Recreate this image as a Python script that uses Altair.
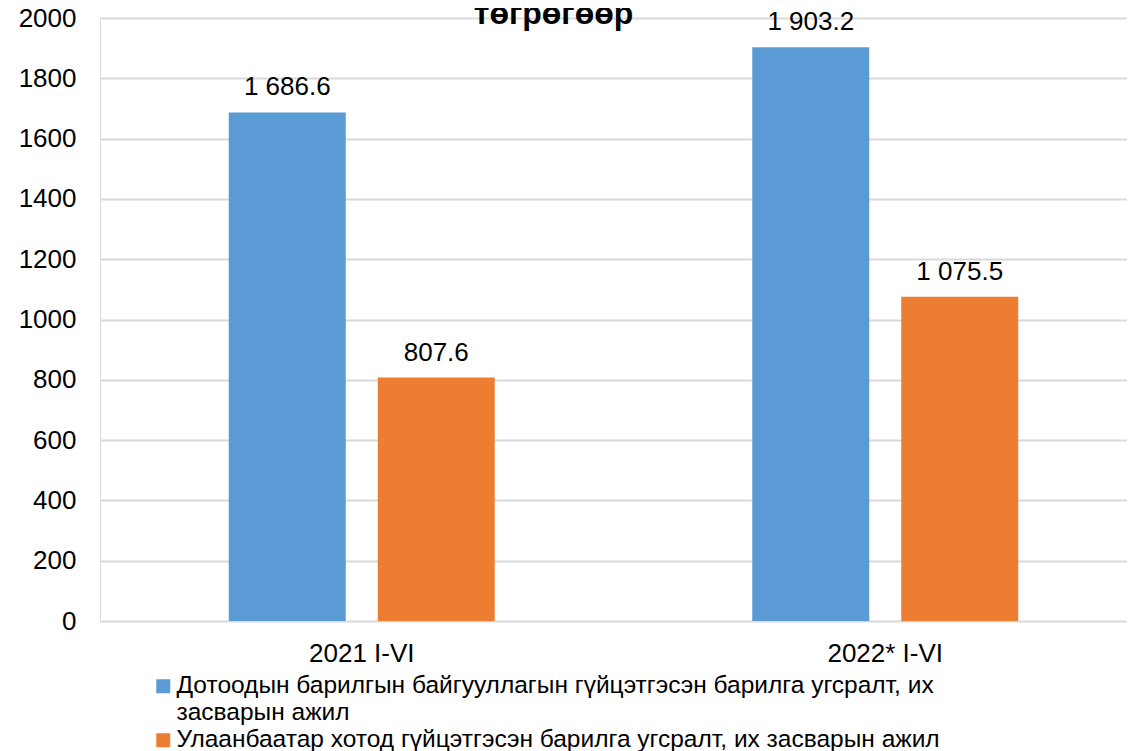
import altair as alt
import pandas as pd

periods = ["2021 I-VI", "2022* I-VI"]
series_names = [
    "Дотоодын барилгын байгууллагын гүйцэтгэсэн барилга угсралт, их засварын ажил",
    "Улаанбаатар хотод гүйцэтгэсэн барилга угсралт, их засварын ажил",
]
domestic_values = [1686.6, 1903.2]
ulaanbaatar_values = [807.6, 1075.5]
y_ticks = [0, 200, 400, 600, 800, 1000, 1200, 1400, 1600, 1800, 2000]
colors = ["#5B9BD5", "#ED7D31"]
title_text = "төгрөгөөр"

rows = []
for p, a, b in zip(periods, domestic_values, ulaanbaatar_values):
    rows.append({"period": p, "series": series_names[0], "value": a})
    rows.append({"period": p, "series": series_names[1], "value": b})
df = pd.DataFrame(rows)

FONT = "Liberation Sans"

first = series_names[0]
cut = first.rfind(" засварын")
label_expr = f"datum.label == '{first}' ? ['{first[:cut]}', '{first[cut+1:]}'] : datum.label"

x_enc = alt.X(
    "period:N",
    sort=periods,
    scale=alt.Scale(range=[0, 1047], paddingInner=0, paddingOuter=0),
    axis=alt.Axis(
        title=None,
        labelAngle=0,
        ticks=False,
        domain=False,
        labelFontSize=26,
        labelFont=FONT,
        labelColor="#000000",
        labelPadding=19,
        grid=False,
    ),
)
xoff_enc = alt.XOffset(
    "series:N",
    sort=series_names,
    scale=alt.Scale(paddingInner=0.2148, paddingOuter=0.8643),
)
y_enc = alt.Y(
    "value:Q",
    scale=alt.Scale(domain=[0, 2000], nice=False),
    axis=alt.Axis(
        title=None,
        values=y_ticks,
        format="d",
        domain=False,
        ticks=False,
        labelFontSize=26,
        labelFont=FONT,
        labelColor="#000000",
        labelPadding=24,
        gridColor="#D9D9D9",
        gridWidth=2,
    ),
)

base = alt.Chart(df).transform_calculate(
    label="replace(format(datum.value, ',.1f'), ',', ' ')"
)

bars = base.mark_bar().encode(
    x=x_enc,
    xOffset=xoff_enc,
    y=y_enc,
    color=alt.Color(
        "series:N",
        sort=series_names,
        scale=alt.Scale(domain=series_names, range=colors),
        legend=alt.Legend(
            title=None,
            orient="none",
            legendX=51,
            legendY=656,
            direction="vertical",
            symbolType="square",
            symbolSize=196,
            symbolStrokeWidth=0,
            labelFontSize=24.5,
            labelFont=FONT,
            labelColor="#000000",
            labelLimit=2000,
            labelOffset=1,
            labelExpr=label_expr,
            rowPadding=2,
        ),
    ),
)

labels = base.mark_text(
    baseline="alphabetic", dy=-17, fontSize=26, font=FONT, color="#000000"
).encode(x=x_enc, xOffset=xoff_enc, y=y_enc, text="label:N")

chart = (
    alt.layer(bars, labels)
    .properties(
        width=1027,
        height=603,
        title=alt.TitleParams(
            title_text,
            font=FONT,
            fontSize=32,
            fontWeight="bold",
            color="#000000",
            anchor="middle",
            dx=-60,
            dy=30,
        ),
        autosize=alt.AutoSizeParams(type="none"),
        padding={"left": 92, "top": 10, "right": 0, "bottom": 130},
    )
    .configure_view(stroke=None)
    .configure(background="#FFFFFF")
)

chart.save("out.html", embed_options={"renderer": "svg", "actions": False})
